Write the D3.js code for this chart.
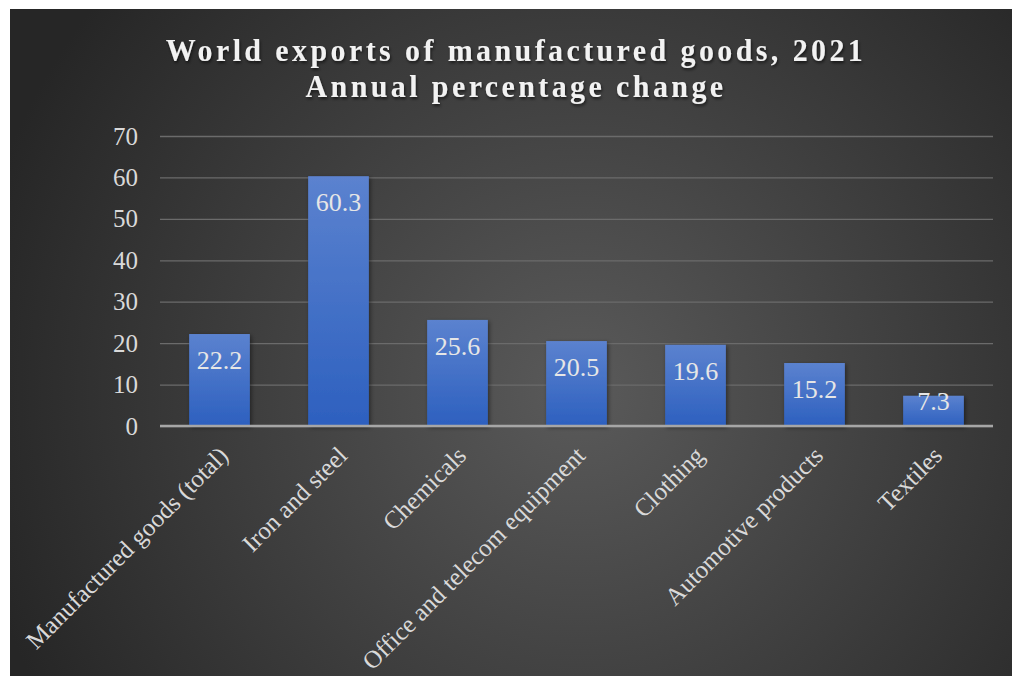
<!DOCTYPE html>
<html>
<head>
<meta charset="utf-8">
<script src="https://cdn.jsdelivr.net/npm/d3@7"></script>
<style>
  body { margin: 0; background: #ffffff; }
  svg { display: block; }
</style>
</head>
<body>
<svg></svg>
<script>
// chart data
const categories = [
    "Manufactured goods (total)",
    "Iron and steel",
    "Chemicals",
    "Office and telecom equipment",
    "Clothing",
    "Automotive products",
    "Textiles"
];
const values = [22.2, 60.3, 25.6, 20.5, 19.6, 15.2, 7.3];
const yTicks = [0, 10, 20, 30, 40, 50, 60, 70];
const titleLines = ["World exports of manufactured goods, 2021", "Annual percentage change"];

const width = 1012;
const height = 676;
const plot = { left: 160, right: 993, top: 136, bottom: 426 };
const serif = "'Liberation Serif', 'Times New Roman', serif";

const svg = d3.select("svg")
    .attr("width", width)
    .attr("height", height);

const defs = svg.append("defs");

// dark radial background like the office theme
const bg = defs.append("radialGradient")
    .attr("id", "bg")
    .attr("gradientUnits", "userSpaceOnUse")
    .attr("cx", 580).attr("cy", 390).attr("r", 620);
bg.append("stop").attr("offset", "0%").attr("stop-color", "#5a5a5a");
bg.append("stop").attr("offset", "100%").attr("stop-color", "#262626");

const barGrad = defs.append("linearGradient")
    .attr("id", "barGrad")
    .attr("x1", 0).attr("y1", 0).attr("x2", 0).attr("y2", 1);
barGrad.append("stop").attr("offset", "0%").attr("stop-color", "#5b82cf");
barGrad.append("stop").attr("offset", "100%").attr("stop-color", "#2d60bf");

const barShadow = defs.append("filter").attr("id", "barShadow")
    .attr("x", "-20%").attr("y", "-10%").attr("width", "140%").attr("height", "120%");
barShadow.append("feDropShadow")
    .attr("dx", 1.5).attr("dy", 1.5).attr("stdDeviation", 2)
    .attr("flood-color", "#000").attr("flood-opacity", 0.45);

const textShadow = defs.append("filter").attr("id", "textShadow")
    .attr("x", "-5%").attr("y", "-20%").attr("width", "110%").attr("height", "140%");
textShadow.append("feDropShadow")
    .attr("dx", 1).attr("dy", 2).attr("stdDeviation", 1.5)
    .attr("flood-color", "#000").attr("flood-opacity", 0.6);

svg.append("rect")
    .attr("x", 10).attr("y", 9)
    .attr("width", width - 10).attr("height", height - 9)
    .attr("fill", "url(#bg)");

// title (a bit taller than wide, like the original)
svg.append("g")
    .attr("filter", "url(#textShadow)")
    .selectAll("text")
    .data(titleLines)
    .enter()
    .append("text")
    .attr("transform", (d, i) => `translate(516,${61 + i * 36}) scale(1,1.08)`)
    .attr("text-anchor", "middle")
    .style("font-family", serif)
    .style("font-weight", "bold")
    .style("font-size", "30px")
    .style("letter-spacing", "3.4px")
    .attr("fill", "#f2f2f2")
    .text(d => d);

const x = d3.scaleBand()
    .domain(categories)
    .range([plot.left, plot.right])
    .paddingInner(0.49)
    .paddingOuter(0.245);

const y = d3.scaleLinear()
    .domain([0, 70])
    .range([plot.bottom, plot.top]);

// gridlines
const grid = svg.append("g")
    .attr("transform", `translate(${plot.left},0)`)
    .call(d3.axisLeft(y).tickValues(yTicks).tickSize(-(plot.right - plot.left)).tickFormat(""));
grid.select(".domain").remove();
grid.selectAll("line")
    .attr("stroke", "#6b6b6b")
    .attr("stroke-width", 1.3);

// y axis labels
const yAxis = svg.append("g")
    .attr("transform", `translate(${plot.left},0)`)
    .call(d3.axisLeft(y).tickValues(yTicks).tickSize(0).tickPadding(22));
yAxis.select(".domain").remove();
yAxis.selectAll("text")
    .style("font-family", serif)
    .style("font-size", "25px")
    .attr("fill", "#d9d9d9");

// bars
svg.append("g")
    .attr("filter", "url(#barShadow)")
    .selectAll("rect")
    .data(values)
    .enter()
    .append("rect")
    .attr("x", (d, i) => x(categories[i]))
    .attr("y", d => y(d))
    .attr("width", x.bandwidth())
    .attr("height", d => y(0) - y(d))
    .attr("fill", "url(#barGrad)");

// zero line
svg.append("line")
    .attr("x1", plot.left).attr("x2", plot.right)
    .attr("y1", y(0)).attr("y2", y(0))
    .attr("stroke", "#a6a6a6")
    .attr("stroke-width", 2.5);

// value labels, inside end
svg.append("g")
    .selectAll("text")
    .data(values)
    .enter()
    .append("text")
    .attr("x", (d, i) => x(categories[i]) + x.bandwidth() / 2)
    .attr("y", d => Math.min(y(d) + 35, y(0) - 16))
    .attr("text-anchor", "middle")
    .style("font-family", serif)
    .style("font-size", "26px")
    .attr("fill", "#e6e6e6")
    .text(d => d.toFixed(1));

// category axis
const xAxis = svg.append("g")
    .attr("transform", `translate(0,${plot.bottom})`)
    .call(d3.axisBottom(x).tickSize(0));
xAxis.select(".domain").remove();
xAxis.selectAll("text")
    .attr("x", 0)
    .attr("y", 0)
    .attr("dy", "0.35em")
    .attr("transform", "translate(4,25) rotate(-45)")
    .attr("text-anchor", "end")
    .style("font-family", serif)
    .style("font-size", "25px")
    .attr("fill", "#d9d9d9");
</script>
</body>
</html>
